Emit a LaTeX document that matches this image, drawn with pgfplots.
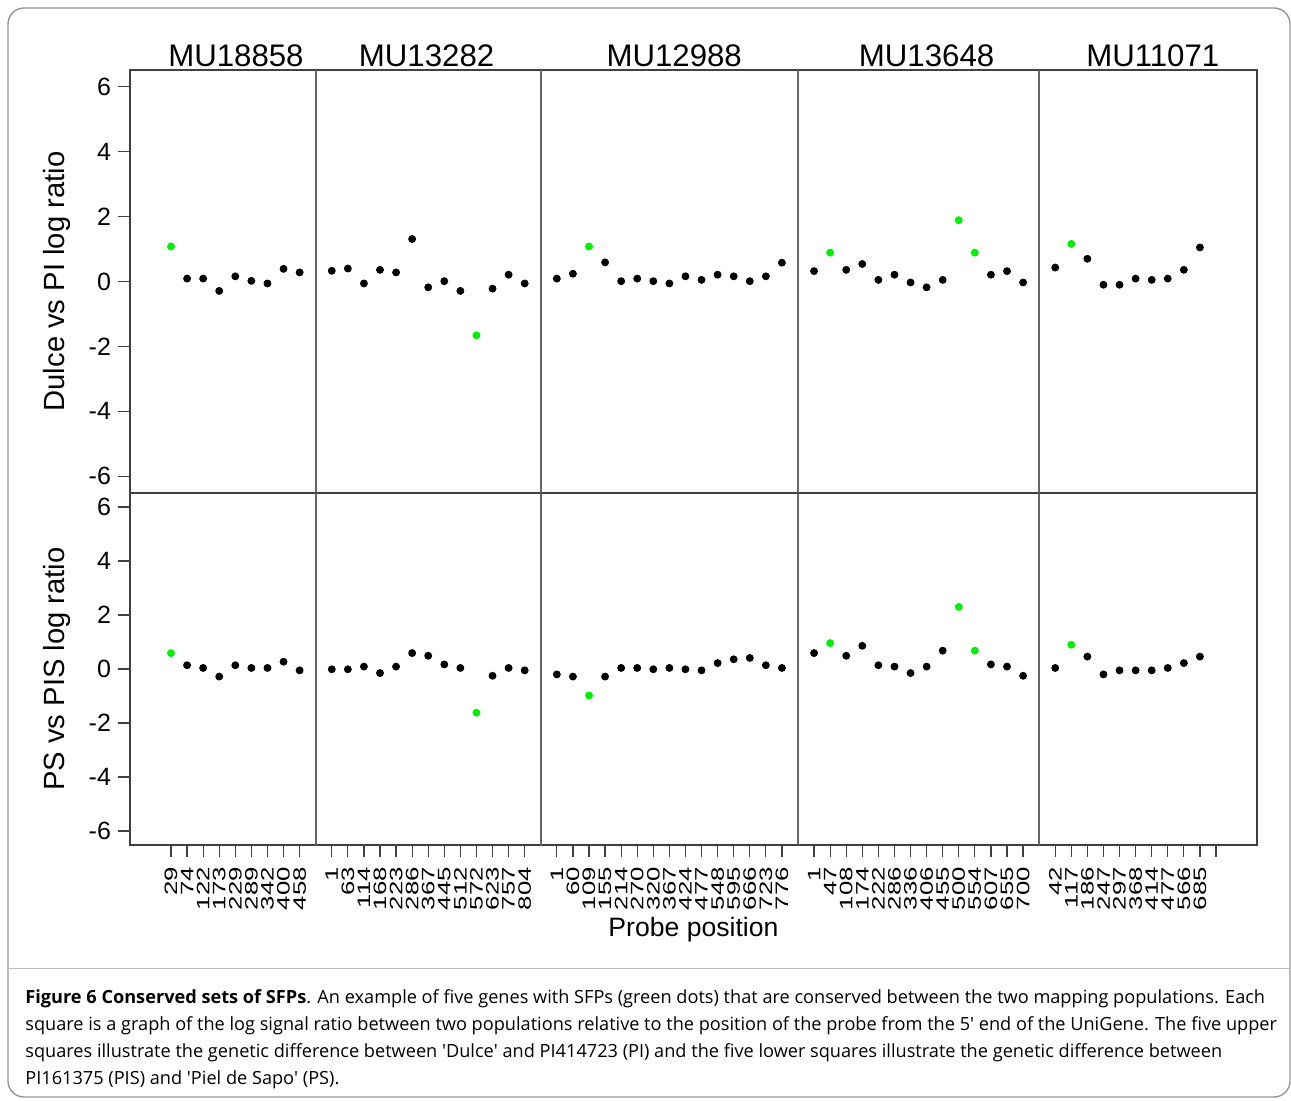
\documentclass[border=0pt]{standalone}
\usepackage{pgfplots}
\pgfplotsset{compat=1.18}
\usepackage{pgfplotstable}
\usepackage{fontspec}
\setmainfont{Liberation Sans}
\newfontfamily\capfont{Open Sans}
\definecolor{sfpgreen}{RGB}{0,240,0}
\definecolor{framegray}{RGB}{150,150,150}

\pgfplotstableread{
x y
2 0.09
3 0.09
4 -0.29
5 0.16
6 0.02
7 -0.06
8 0.39
9 0.28
11 0.33
12 0.40
13 -0.06
14 0.36
15 0.28
16 1.31
17 -0.18
18 0.01
19 -0.29
21 -0.22
22 0.21
23 -0.06
25 0.09
26 0.24
28 0.59
29 0.01
30 0.09
31 0.01
32 -0.06
33 0.16
34 0.05
35 0.21
36 0.16
37 0.01
38 0.16
39 0.58
41 0.32
43 0.36
44 0.54
45 0.05
46 0.21
47 -0.03
48 -0.18
49 0.05
52 0.21
53 0.32
54 -0.03
56 0.43
58 0.70
59 -0.10
60 -0.10
61 0.09
62 0.05
63 0.09
64 0.36
65 1.05
}\topblack

\pgfplotstableread{
x y
1 1.08
20 -1.66
27 1.08
42 0.89
50 1.89
51 0.89
57 1.16
}\topgreen

\pgfplotstableread{
x y
2 0.14
3 0.04
4 -0.28
5 0.14
6 0.04
7 0.04
8 0.27
9 -0.05
11 -0.01
12 -0.01
13 0.09
14 -0.15
15 0.09
16 0.59
17 0.49
18 0.17
19 0.04
21 -0.25
22 0.04
23 -0.05
25 -0.20
26 -0.28
28 -0.28
29 0.04
30 0.04
31 -0.01
32 0.04
33 -0.01
34 -0.05
35 0.22
36 0.36
37 0.41
38 0.14
39 0.04
41 0.59
43 0.49
44 0.86
45 0.14
46 0.09
47 -0.15
48 0.09
49 0.68
52 0.17
53 0.09
54 -0.25
56 0.04
58 0.46
59 -0.20
60 -0.05
61 -0.05
62 -0.05
63 0.04
64 0.22
65 0.46
}\botblack

\pgfplotstableread{
x y
1 0.59
20 -1.62
27 -0.98
42 0.96
50 2.30
51 0.68
57 0.90
}\botgreen

\tikzset{divider/.style={black!60, line width=1pt}}
\pgfplotsset{
  panel/.style={
    scale only axis, width=563.5pt,
    xmin=-1.55, xmax=68.55, ymin=-6.52, ymax=6.52,
    ytick={-6,-4,-2,0,2,4,6},
    ytick pos=left, tick align=outside, major tick length=6pt,
    axis line style={black!75, line width=0.6pt},
    tick style={black!75, line width=0.6pt},
    yticklabel style={font=\fontsize{12.5}{12.5}\selectfont},
    /pgf/number format/assume math mode=true,
    clip=false,
    ylabel style={at={(axis description cs:-0.0648,0.5)}, anchor=center,
      font=\fontsize{14.6}{14.6}\selectfont},
  },
  blackpts/.style={only marks, mark=*, mark size=1.75pt, mark options={fill=black, draw=black}},
  greenpts/.style={only marks, mark=*, mark size=1.75pt, mark options={fill=sfpgreen, draw=sfpgreen}},
}

\begin{document}
\begin{tikzpicture}
\path[use as bounding box] (0,0) rectangle (645.5pt,550pt);
\draw[framegray, line width=0.7pt, rounded corners=8pt] (4pt,1.5pt) rectangle (645pt,546pt);
\draw[black!25, line width=0.5pt] (4pt,66pt) -- (645pt,66pt);

% top panel
\begin{axis}[panel, height=211.5pt, at={(65pt,303.5pt)}, anchor=south west,
  xtick=\empty, ylabel={Dulce vs PI log ratio}]
  \draw[divider] (axis cs:10,-6.52) -- (axis cs:10,6.52);
  \draw[divider] (axis cs:24,-6.52) -- (axis cs:24,6.52);
  \draw[divider] (axis cs:40,-6.52) -- (axis cs:40,6.52);
  \draw[divider] (axis cs:55,-6.52) -- (axis cs:55,6.52);
  \addplot[blackpts] table[x=x, y=y] {\topblack};
  \addplot[greenpts] table[x=x, y=y] {\topgreen};
  \begin{scope}[every node/.style={anchor=base, yshift=2pt, font=\fontsize{15.6}{15.6}\selectfont}]
    \node at (axis cs:5.04,6.52) {MU18858};
    \node at (axis cs:16.9,6.52) {MU13282};
    \node at (axis cs:32.3,6.52) {MU12988};
    \node at (axis cs:48.0,6.52) {MU13648};
    \node at (axis cs:62.07,6.52) {MU11071};
  \end{scope}
\end{axis}

% bottom panel
\begin{axis}[panel, height=176pt, at={(65pt,127.5pt)}, anchor=south west,
  ylabel={PS vs PIS log ratio},
  xtick pos=bottom,
  xtick={1,2,3,4,5,6,7,8,9,11,12,13,14,15,16,17,18,19,20,21,22,23,25,26,27,28,29,30,31,32,33,34,35,36,37,38,39,41,42,43,44,45,46,47,48,49,50,51,52,53,54,56,57,58,59,60,61,62,63,64,65,66},
  xticklabels={29,74,122,173,229,289,342,400,458,1,63,114,168,223,286,367,445,512,572,623,757,804,1,60,109,155,214,270,320,367,424,477,548,595,666,723,776,1,47,108,174,222,286,336,406,455,500,554,607,655,700,42,117,186,247,297,368,414,477,566,685,{}},
  xticklabel style={rotate=90, xscale=1.43, anchor=east, font=\fontsize{9}{9}\selectfont},
  xlabel={Probe position},
  xlabel style={at={(axis description cs:0.5,0)}, anchor=base, yshift=-45.5pt,
    font=\fontsize{13.3}{13.3}\selectfont}]
  \draw[divider] (axis cs:10,-6.52) -- (axis cs:10,6.52);
  \draw[divider] (axis cs:24,-6.52) -- (axis cs:24,6.52);
  \draw[divider] (axis cs:40,-6.52) -- (axis cs:40,6.52);
  \draw[divider] (axis cs:55,-6.52) -- (axis cs:55,6.52);
  \addplot[blackpts] table[x=x, y=y] {\botblack};
  \addplot[greenpts] table[x=x, y=y] {\botgreen};
\end{axis}

\node[anchor=north west, align=left, inner sep=0pt,
  font=\capfont\fontsize{9.08}{13.5}\selectfont] at (12.5pt,55.5pt)
{{\bfseries Figure 6 Conserved sets of SFPs}. An example of five genes with SFPs (green dots) that are conserved between the two mapping populations. Each\\
square is a graph of the log signal ratio between two populations relative to the position of the probe from the 5\textquotesingle{} end of the UniGene. The five upper\\
squares illustrate the genetic difference between \textquotesingle Dulce\textquotesingle{} and PI414723 (PI) and the five lower squares illustrate the genetic difference between\\
PI161375 (PIS) and \textquotesingle Piel de Sapo\textquotesingle{} (PS).};
\end{tikzpicture}
\end{document}
